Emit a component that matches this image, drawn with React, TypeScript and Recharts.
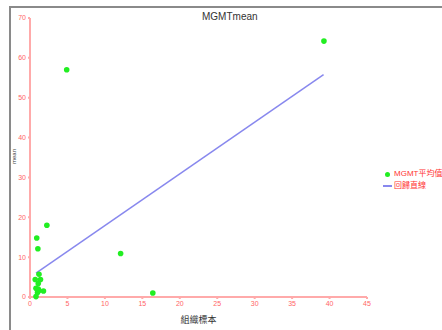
import { ScatterChart, Scatter, XAxis, YAxis } from "recharts";

const FONT = '"Liberation Sans", "Noto Sans CJK TC", sans-serif';

const sampleX = [0.8, 1.0, 1.2, 1.8, 0.8, 1.1, 1.1, 0.7, 1.4, 1.2, 0.9, 1.05, 2.25, 4.9, 12.1, 16.4, 39.25];
const meanY = [0.1, 1.1, 1.6, 1.5, 2.2, 2.0, 3.4, 4.4, 4.4, 5.7, 14.8, 12.1, 18.0, 57.0, 10.9, 1.0, 64.2];

const fitX = [0.8, 39.2];
const fitY = [6.0, 55.8];

const xTicks = [0, 5, 10, 15, 20, 25, 30, 35, 40, 45];
const yTicks = [0, 10, 20, 30, 40, 50, 60, 70];

const points = sampleX.map((x, i) => ({ x, y: meanY[i] }));
const fit = fitX.map((x, i) => ({ x, y: fitY[i] }));

const AXIS = "#ffaaaa";
const TICK_TXT = "#ff6666";
const GREEN = "#22ee22";
const BLUE = "#8888ee";

const Dot = (p: any) => <circle cx={p.cx} cy={p.cy} r={2.8} fill={GREEN} />;

export default function App() {
  return (
    <div style={{ position: "absolute", left: 0, top: 0, width: 442, height: 330, background: "#fff", fontFamily: FONT, overflow: "hidden" }}>
      <div style={{ position: "absolute", left: 9, top: 6, width: 433, height: 324, borderTop: "2px solid #8a8a8a", borderLeft: "2px solid #8a8a8a", boxSizing: "border-box" }} />
      <div style={{ position: "absolute", left: 202, top: 11, fontSize: 10, color: "#333" }}>MGMTmean</div>
      <div style={{ position: "absolute", left: 11, top: 164, fontSize: 6, color: "#444", transform: "rotate(-90deg)", transformOrigin: "left top" }}>
        mean
      </div>
      <div style={{ position: "absolute", left: 383, top: 168, fontSize: 8, color: "#ff3333", lineHeight: "12px", whiteSpace: "nowrap" }}>
        <div style={{ display: "flex", alignItems: "center" }}>
          <span style={{ display: "inline-block", width: 5, height: 5, borderRadius: 3, background: GREEN, margin: "0 4px 0 2px" }} />
          MGMT平均值
        </div>
        <div style={{ display: "flex", alignItems: "center" }}>
          <span style={{ display: "inline-block", width: 9, height: 1.5, background: BLUE, marginRight: 2 }} />
          回歸直線
        </div>
      </div>
      <ScatterChart width={442} height={330} margin={{ top: 18, right: 75, bottom: 13, left: 1 }} style={{ position: "absolute", left: 0, top: 0 }}>
        <XAxis
          type="number"
          dataKey="x"
          domain={[0, 45]}
          ticks={xTicks}
          interval={0}
          height={20}
          stroke={AXIS}
          strokeWidth={2}
          tickSize={2}
          tick={{ fontSize: 7, fill: TICK_TXT }}
          label={{ value: "組織標本", position: "insideBottom", offset: -6, style: { fontSize: 9, fill: "#333" } }}
        />
        <YAxis
          type="number"
          dataKey="y"
          domain={[0, 70]}
          ticks={yTicks}
          interval={0}
          width={29}
          stroke={AXIS}
          strokeWidth={2}
          tickSize={2}
          tick={{ fontSize: 7, fill: TICK_TXT }}
        />
        <Scatter data={fit} line={{ stroke: BLUE, strokeWidth: 1.5 }} shape={() => null} isAnimationActive={false} />
        <Scatter data={points} shape={Dot} isAnimationActive={false} />
      </ScatterChart>
    </div>
  );
}
